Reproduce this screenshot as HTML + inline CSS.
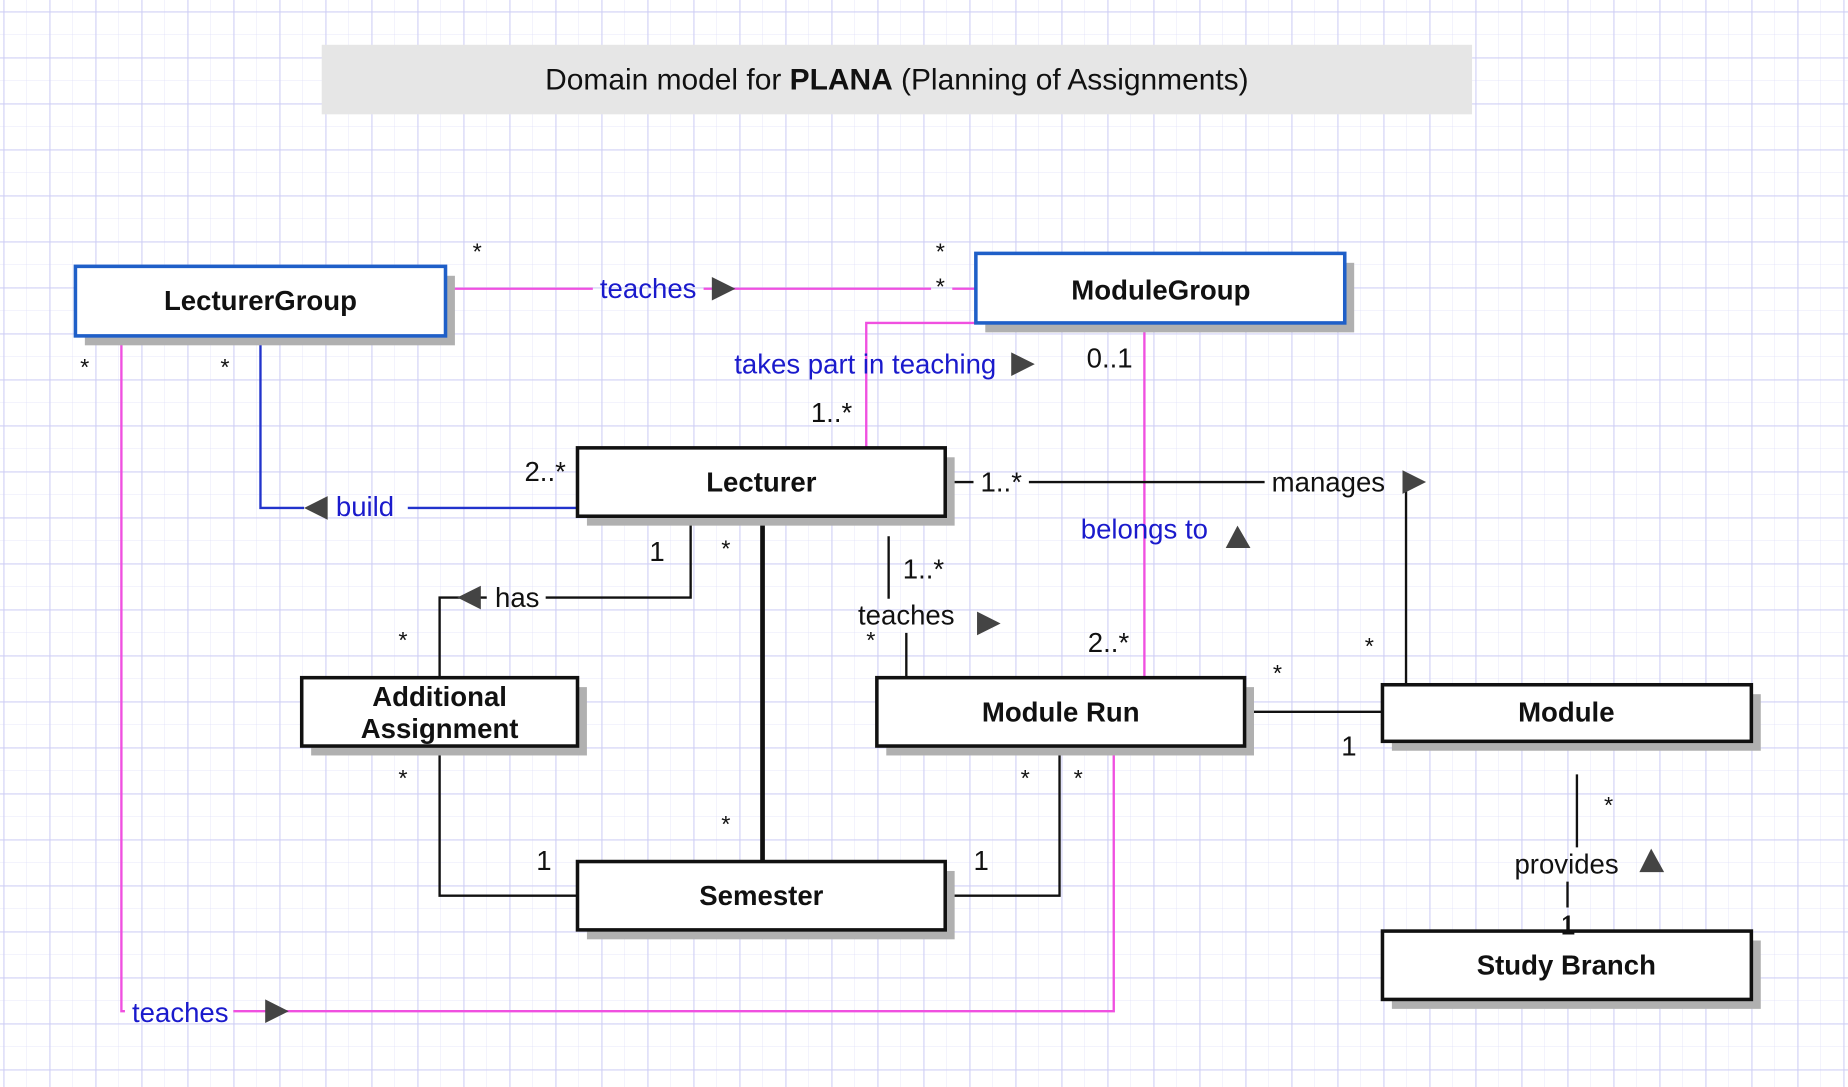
<!DOCTYPE html>
<html><head><meta charset="utf-8"><style>
html,body{margin:0;padding:0;}
body{width:1848px;height:1087px;overflow:hidden;background-color:#fff;
background-image:
linear-gradient(to right,rgba(205,205,245,.45) 2px,transparent 2px),
linear-gradient(to bottom,rgba(205,205,245,.45) 2px,transparent 2px),
linear-gradient(to right,rgba(220,220,248,.35) 1px,transparent 1px),
linear-gradient(to bottom,rgba(220,220,248,.35) 1px,transparent 1px);
background-size:46px 46px,46px 46px,23px 23px,23px 23px;
background-position:3px 11px,3px 11px,3px 11px,3px 11px;}
svg{position:absolute;left:0;top:0;}
text{font-family:"Liberation Sans",sans-serif;}
</style></head><body>
<svg width="1848" height="1087" viewBox="0 0 1568 922.3" preserveAspectRatio="none">
<rect x="273" y="38" width="976" height="59" fill="#e6e6e6"/>
<text x="761" y="76" font-size="25.4" text-anchor="middle" fill="#111">Domain model for <tspan font-weight="bold">PLANA</tspan> (Planning of Assignments)</text>

<g fill="none" stroke-width="2">
<path d="M378 245 H503 M597 245 H790 M808 245 H828" stroke="#f050e0"/>
<path d="M828 274 H735 V380" stroke="#f050e0"/>
<path d="M971 274 V575" stroke="#f050e0"/>
<path d="M103 285 V858 H106 M198 858 H945 V633" stroke="#f050e0"/>
<path d="M221 285 V431 H258 M346 431 H490" stroke="#2233cc"/>
<path d="M802 409 H826 M873 409 H1073 M1193 409 V581" stroke="#111"/>
<path d="M647 438 V731" stroke="#111" stroke-width="4"/>
<path d="M586 438 V507 H463 M413 507 H373 V575" stroke="#111"/>
<path d="M754 455 V508 M769 537 V575" stroke="#111"/>
<path d="M1056 604 H1173" stroke="#111"/>
<path d="M373 633 V760 H490" stroke="#111"/>
<path d="M802 760 H899 V633" stroke="#111"/>
<path d="M1338 657 V719 M1330 748 V770 M1330 778 V790" stroke="#111"/>
</g>
<g fill="#444">
<polygon points="604,235 624,245 604,255"/>
<polygon points="858,299 878,309 858,319"/>
<polygon points="1190,399 1210,409 1190,419"/>
<polygon points="1040,465 1050,446 1061,465"/>
<polygon points="829,519 849,529 829,539"/>
<polygon points="278,421 258,431 278,441"/>
<polygon points="408,497 388,507 408,517"/>
<polygon points="225,848 245,858 225,868"/>
<polygon points="1391,740 1401,720 1412,740"/>
</g>

<g>
<rect x="72" y="234" width="314" height="59" fill="#b0b0b0"/>
<rect x="64" y="226" width="314" height="59" fill="#fff" stroke="#1f5fc8" stroke-width="3"/>
<rect x="836" y="223" width="313" height="59" fill="#b0b0b0"/>
<rect x="828" y="215" width="313" height="59" fill="#fff" stroke="#1f5fc8" stroke-width="3"/>
<rect x="498" y="388" width="312" height="58" fill="#b0b0b0"/>
<rect x="490" y="380" width="312" height="58" fill="#fff" stroke="#111" stroke-width="3"/>
<rect x="264" y="583" width="234" height="58" fill="#b0b0b0"/>
<rect x="256" y="575" width="234" height="58" fill="#fff" stroke="#111" stroke-width="3"/>
<rect x="752" y="583" width="312" height="58" fill="#b0b0b0"/>
<rect x="744" y="575" width="312" height="58" fill="#fff" stroke="#111" stroke-width="3"/>
<rect x="1181" y="589" width="313" height="48" fill="#b0b0b0"/>
<rect x="1173" y="581" width="313" height="48" fill="#fff" stroke="#111" stroke-width="3"/>
<rect x="498" y="739" width="312" height="58" fill="#b0b0b0"/>
<rect x="490" y="731" width="312" height="58" fill="#fff" stroke="#111" stroke-width="3"/>
<rect x="1181" y="798" width="313" height="58" fill="#b0b0b0"/>
<rect x="1173" y="790" width="313" height="58" fill="#fff" stroke="#111" stroke-width="3"/>
</g>
<g font-size="23.4" font-weight="bold" text-anchor="middle" fill="#111">
<text x="221" y="263">LecturerGroup</text>
<text x="985" y="254">ModuleGroup</text>
<text x="646" y="417">Lecturer</text>
<text x="373" y="599">Additional</text>
<text x="373" y="626">Assignment</text>
<text x="900" y="612">Module Run</text>
<text x="1329" y="612">Module</text>
<text x="646" y="768">Semester</text>
<text x="1329" y="827">Study Branch</text>
</g>
<g font-size="23.4" fill="#1a1acc">
<text x="509" y="253">teaches</text>
<text x="623" y="317">takes part in teaching</text>
<text x="917" y="457">belongs to</text>
<text x="285" y="438">build</text>
<text x="112" y="867">teaches</text>
</g>
<g font-size="23.4" fill="#111">
<text x="1079" y="417">manages</text>
<text x="420" y="515">has</text>
<text x="728" y="530">teaches</text>
<text x="1285" y="741">provides</text>
<text x="922" y="312">0..1</text>
<text x="688" y="358">1..*</text>
<text x="445" y="408">2..*</text>
<text x="832" y="417">1..*</text>
<text x="766" y="491">1..*</text>
<text x="923" y="553">2..*</text>
<text x="551" y="476">1</text>
<text x="1138" y="641">1</text>
<text x="455" y="738">1</text>
<text x="826" y="738">1</text>
<text x="1324" y="793">1</text>
</g>
<g font-size="20" fill="#111">
<text x="401" y="220">*</text>
<text x="794" y="220">*</text>
<text x="794" y="250">*</text>
<text x="68" y="318">*</text>
<text x="187" y="318">*</text>
<text x="612" y="472">*</text>
<text x="338" y="550">*</text>
<text x="735" y="550">*</text>
<text x="1158" y="555">*</text>
<text x="1080" y="578">*</text>
<text x="338" y="667">*</text>
<text x="866" y="667">*</text>
<text x="911" y="667">*</text>
<text x="612" y="706">*</text>
<text x="1361" y="690">*</text>
</g>
</svg>
</body></html>
